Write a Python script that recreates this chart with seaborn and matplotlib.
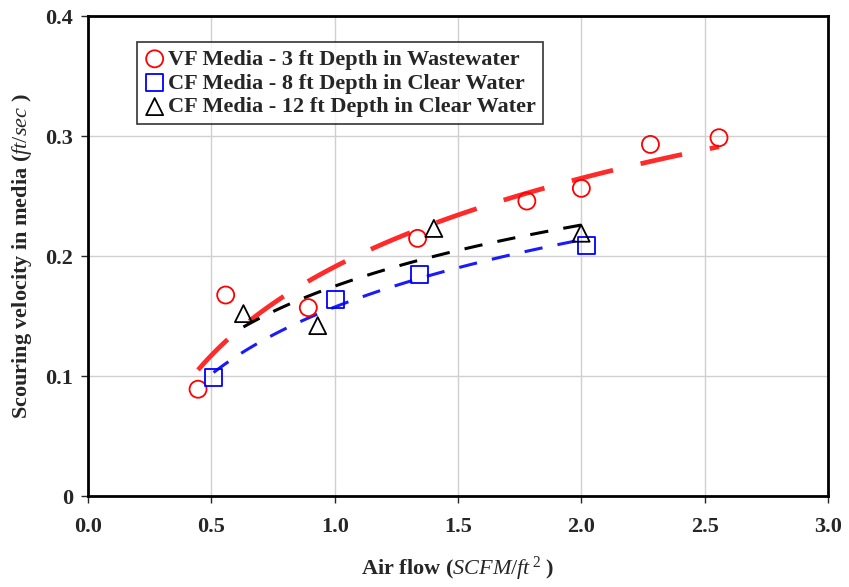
import numpy as np
import pandas as pd
import matplotlib
matplotlib.use("Agg")
import matplotlib.pyplot as plt
import seaborn as sns

# data
vf3_x = [0.446, 0.558, 0.893, 1.336, 1.779, 2.000, 2.280, 2.558]
vf3_y = [0.089, 0.1675, 0.157, 0.2147, 0.2458, 0.2564, 0.293, 0.2986]
cf8_x = [0.509, 1.002, 1.344, 2.021]
cf8_y = [0.0986, 0.164, 0.185, 0.2086]
cf12_x = [0.630, 0.931, 1.402, 1.999]
cf12_y = [0.152, 0.142, 0.223, 0.219]

series_names = ["VF Media - 3 ft Depth in Wastewater",
                "CF Media - 8 ft Depth in Clear Water",
                "CF Media - 12 ft Depth in Clear Water"]
x_ticks = [0.0, 0.5, 1.0, 1.5, 2.0, 2.5, 3.0]
y_ticks = [0, 0.1, 0.2, 0.3, 0.4]
y_tick_labels = ["0", "0.1", "0.2", "0.3", "0.4"]

sns.set_style("white")
plt.rcParams["font.family"] = ["Liberation Serif", "DejaVu Serif"]
plt.rcParams["mathtext.fontset"] = "custom"
plt.rcParams["mathtext.rm"] = "Liberation Serif"
plt.rcParams["mathtext.it"] = "Liberation Serif:italic"
plt.rcParams["mathtext.bf"] = "Liberation Serif:bold"

fig = plt.figure(figsize=(8.49, 5.87), dpi=100)
ax = fig.add_axes([0.1037, 0.155, 0.8716, 0.8177])

groups = [
    (vf3_x, vf3_y, "#ff0000", "#ff2a2a", "o", 3.4, (9, 6)),
    (cf8_x, cf8_y, "#0000ff", "#1a1aff", "s", 2.2, (6, 5)),
    (cf12_x, cf12_y, "black", "black", "^", 2.2, (6, 5)),
]

for (xs, ys, mcol, lcol, mk, lw, dash), name in zip(groups, series_names):
    df = pd.DataFrame({"x": xs, "y": ys})
    # logarithmic trend line fitted to the points
    b, a = np.polyfit(np.log(df["x"]), df["y"], 1)
    xx = np.linspace(df["x"].min(), df["x"].max(), 100)
    trend = pd.DataFrame({"x": xx, "y": a + b * np.log(xx)})
    sns.lineplot(data=trend, x="x", y="y", ax=ax, color=lcol, linewidth=lw,
                 dashes=False, legend=False, zorder=2).lines[-1].set_dashes(dash)
    sns.scatterplot(data=df, x="x", y="y", ax=ax, marker=mk, s=150,
                    facecolor="none", edgecolor=mcol, linewidth=1.3,
                    label=name, zorder=3)

ax.set_xlim(0, 3.0)
ax.set_ylim(0, 0.4)
ax.set_xticks(x_ticks)
ax.set_xticklabels([f"{v:.1f}" for v in x_ticks])
ax.set_yticks(y_ticks)
ax.set_yticklabels(y_tick_labels)
ax.grid(True, color="#d0d0d0", linewidth=1.0)
ax.set_axisbelow(True)
for sp in ax.spines.values():
    sp.set_color("black")
    sp.set_linewidth(2.0)
ax.tick_params(axis="x", direction="out", length=5, width=1, pad=10,
               labelsize=16, bottom=True)
ax.tick_params(axis="y", direction="out", length=5, width=1, pad=6,
               labelsize=16, left=True)
for lab in ax.get_xticklabels() + ax.get_yticklabels():
    lab.set_fontweight("bold")

ax.set_xlabel(r"Air flow ($\mathit{SCFM/ft}^{\,2}$ )", fontsize=16,
              fontweight="bold", labelpad=13)
ax.set_ylabel(r"Scouring velocity in media ($\mathit{ft/sec}$ )", fontsize=16,
              fontweight="bold", labelpad=8)

leg = ax.legend(loc="upper left", bbox_to_anchor=(0.066, 0.945),
                prop={"weight": "bold", "size": 16}, frameon=True,
                fancybox=False, edgecolor="black", handletextpad=0.1,
                handlelength=1.0, borderpad=0.3, labelspacing=0.15,
                borderaxespad=0)
leg.get_frame().set_linewidth(1.2)

fig.savefig("out.png", dpi=100)
